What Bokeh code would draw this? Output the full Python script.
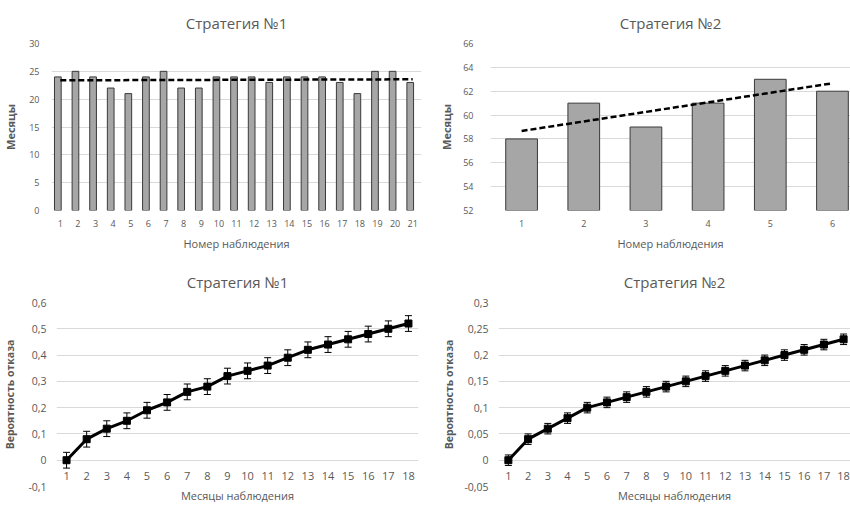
import numpy as np
from bokeh.plotting import figure
from bokeh.layouts import column, row
from bokeh.models import (ColumnDataSource, Range1d, FixedTicker,
                          CustomJSTickFormatter, Whisker, TeeHead)
from bokeh.transform import dodge
from bokeh.core.properties import value
from bokeh.embed import file_html
from bokeh.resources import INLINE

FONT = "Open Sans"
GRID = "#d9d9d9"
TXT = "#595959"

# ---------------- data ----------------
title1 = "Стратегия №1"
title2 = "Стратегия №2"
xlab_top = "Номер наблюдения"
ylab_top = "Месяцы"
xlab_bot = "Месяцы наблюдения"
ylab_bot = "Вероятность отказа"

obs1 = [1, 2, 3, 4, 5, 6, 7, 8, 9, 10, 11, 12, 13, 14, 15, 16, 17, 18, 19, 20, 21]
months1 = [24, 25, 24, 22, 21, 24, 25, 22, 22, 24, 24, 24, 23, 24, 24, 24, 23, 21, 25, 25, 23]

obs2 = [1, 2, 3, 4, 5, 6]
months2 = [58, 61, 59, 61, 63, 62]

month_idx = [1, 2, 3, 4, 5, 6, 7, 8, 9, 10, 11, 12, 13, 14, 15, 16, 17, 18]
prob1 = [0.0, 0.08, 0.12, 0.15, 0.19, 0.22, 0.26, 0.28, 0.32, 0.34, 0.36, 0.39,
         0.42, 0.44, 0.46, 0.48, 0.50, 0.52]
err1 = [0.03, 0.03, 0.03, 0.03, 0.03, 0.03, 0.03, 0.03, 0.03, 0.03, 0.03, 0.03,
        0.03, 0.03, 0.03, 0.03, 0.03, 0.03]
prob2 = [0.0, 0.04, 0.06, 0.08, 0.10, 0.11, 0.12, 0.13, 0.14, 0.15, 0.16, 0.17,
         0.18, 0.19, 0.20, 0.21, 0.22, 0.23]
err2 = [0.01, 0.01, 0.01, 0.01, 0.01, 0.01, 0.01, 0.01, 0.01, 0.01, 0.01, 0.01,
        0.01, 0.01, 0.01, 0.01, 0.01, 0.01]

yticks1 = [0, 5, 10, 15, 20, 25, 30]
yticks2 = [52, 54, 56, 58, 60, 62, 64, 66]
yticks3 = [-0.1, 0, 0.1, 0.2, 0.3, 0.4, 0.5, 0.6]
yticks4 = [-0.05, 0, 0.05, 0.1, 0.15, 0.2, 0.25, 0.3]

comma_fmt = CustomJSTickFormatter(
    code="return String(Math.round(tick*100)/100).replace('.', ',');")


def base(w, h, xr, yr, left, right, top, bottom, title, toff, tstand):
    p = figure(width=w, height=h, x_range=xr, y_range=yr,
               output_backend="svg", toolbar_location=None,
               min_border_left=left, min_border_right=right,
               min_border_top=top, min_border_bottom=bottom)
    p.title.text = title
    p.title.align = "center"
    p.title.text_font = FONT
    p.title.text_font_size = "15px"
    p.title.text_font_style = "normal"
    p.title.text_color = TXT
    p.title.offset = toff
    p.title.standoff = tstand
    p.outline_line_color = None
    p.background_fill_color = "white"
    p.border_fill_color = "white"
    p.xgrid.visible = False
    p.ygrid.grid_line_color = GRID
    p.ygrid.grid_line_width = 1
    for ax in (p.xaxis[0], p.yaxis[0]):
        ax.axis_line_color = None
        ax.major_tick_line_color = None
        ax.minor_tick_line_color = None
        ax.major_tick_out = 0
        ax.major_tick_in = 0
        ax.major_label_text_font = FONT
        ax.major_label_text_font_size = "9px"
        ax.major_label_text_color = TXT
        ax.axis_label_text_font = FONT
        ax.axis_label_text_font_size = "11px"
        ax.axis_label_text_color = TXT
    p.xaxis.axis_label_text_font_style = "normal"
    p.yaxis.axis_label_text_font_style = "bold"
    return p


def bar_chart(w, xr, left, right, xs, ys, yticks, ylo, yhi, title, toff,
              bar_w, shift, lab_st, ttl_st):
    p = base(w, 253, xr, Range1d(ylo, yhi), left, right, 43, 43, title, toff, 21)
    src = ColumnDataSource(dict(x=xs, y=ys))
    p.vbar(x=dodge("x", shift, range=p.x_range), top="y", bottom=ylo,
           width=bar_w, source=src, fill_color="#a6a6a6",
           line_color="#3a3a3a", line_width=1)
    k, b = np.polyfit(np.array(xs, float), np.array(ys, float), 1)
    tx = [xs[0], xs[-1]]
    p.line(tx, [k * t + b for t in tx], line_color="black", line_width=2.5,
           line_dash="6 3")
    p.xaxis.ticker = FixedTicker(ticks=xs)
    p.yaxis.ticker = FixedTicker(ticks=yticks)
    p.xaxis.major_label_standoff = 9
    p.xaxis.axis_label = xlab_top
    p.xaxis.axis_label_standoff = 6
    p.yaxis.axis_label = ylab_top
    p.yaxis.major_label_standoff = lab_st
    p.yaxis.axis_label_standoff = ttl_st
    return p


def line_chart(w, xr, left, right, xs, ys, es, yticks, ylo, yhi, title, toff,
               lab_st, ttl_st):
    p = base(w, 252, xr, Range1d(ylo, yhi), left, right, 49, 19, title, toff, 21)
    up = [y + e for y, e in zip(ys, es)]
    lo = [y - e for y, e in zip(ys, es)]
    src = ColumnDataSource(dict(x=xs, y=ys, up=up, lo=lo,
                                zero=[0] * len(xs),
                                lab=[str(v) for v in xs]))
    wk = Whisker(source=src, base="x", upper="up", lower="lo",
                 dimension="height", line_color="black", line_width=1,
                 upper_head=TeeHead(size=7, line_color="black", line_width=1),
                 lower_head=TeeHead(size=7, line_color="black", line_width=1))
    p.add_layout(wk)
    p.line("x", "y", source=src, line_color="black", line_width=3)
    p.scatter("x", "y", source=src, marker="square", size=7,
              fill_color="black", line_color="black")
    p.text("x", "zero", text="lab", source=src, y_offset=16,
           text_font=value(FONT), text_font_size="11px", text_color=TXT,
           text_align="center", text_baseline="middle")
    p.xaxis.ticker = FixedTicker(ticks=[])
    p.xaxis.major_label_standoff = 0
    p.xaxis.axis_label = xlab_bot
    p.xaxis.axis_label_standoff = 1
    p.yaxis.ticker = FixedTicker(ticks=yticks)
    p.yaxis.formatter = comma_fmt
    p.yaxis.major_label_text_font_size = "10.5px"
    p.yaxis.axis_label_text_font_size = "10.5px"
    p.yaxis.axis_label = ylab_bot
    p.yaxis.major_label_standoff = lab_st
    p.yaxis.axis_label_standoff = ttl_st
    return p


tl = bar_chart(425, Range1d(0.5, 21.5), 46, 4, obs1, months1, yticks1, 0, 30,
               title1, -20, 0.38, -0.14, 12, 8)
tr = bar_chart(425, Range1d(0.5, 6.29), 65, 0, obs2, months2, yticks2, 52, 66,
               title2, -15, 0.51, 0, 17, 6)
bl = line_chart(425, Range1d(0.5, 18.5), 53, 7, month_idx, prob1, err1,
                yticks3, -0.1, 0.6, title1, -25, 10, 8)
br = line_chart(425, Range1d(0.5, 18.35), 73, 0, month_idx, prob2, err2,
                yticks4, -0.05, 0.3, title2, -27, 10, 5)

layout = column(row(tl, tr), row(bl, br))
open("out.html", "w").write(file_html(layout, INLINE))
